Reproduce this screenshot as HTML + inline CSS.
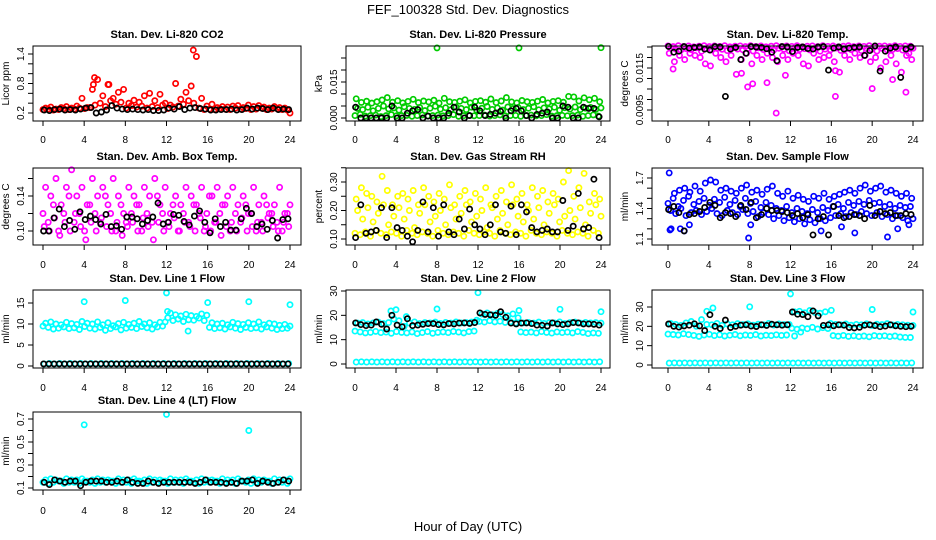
<!DOCTYPE html>
<html><head><meta charset="utf-8"><style>
body{margin:0;background:#fff}
svg{display:block;font-family:"Liberation Sans",sans-serif}
</style></head><body>
<svg id="chart" width="936" height="540" viewBox="0 0 936 540" xmlns="http://www.w3.org/2000/svg">
<rect width="936" height="540" fill="#fff"/>
<text x="468" y="14" text-anchor="middle" font-size="13">FEF_100328  Std. Dev. Diagnostics</text>
<text x="468" y="531" text-anchor="middle" font-size="13">Hour of Day (UTC)</text>
<g id="plots"></g>
</svg>
<script>
// ---- data (48 samples per series across 0-24 h unless hours given) ----
const hourTicks=[0,4,8,12,16,20,24];
const co2Red1=[0.27,0.28,0.26,0.27,0.29,0.27,0.28,0.30,0.29,0.31,0.36,0.40,0.33,0.45,0.38,0.42,0.30,0.35,0.32,0.34,0.30,0.33,0.31,0.36,0.29,0.32,0.34,0.38,0.45,0.40,0.30,0.27,0.28,0.27,0.29,0.28,0.27,0.30,0.28,0.29,0.27,0.28,0.30,0.27,0.28,0.29,0.27,0.26];
const co2Red2=[0.30,0.32,0.28,0.31,0.33,0.30,0.34,0.50,0.31,0.68,0.88,0.55,0.78,0.50,0.62,0.68,0.40,0.46,0.42,0.55,0.60,0.45,0.58,0.40,0.36,0.80,0.48,0.62,0.75,1.35,0.50,0.34,0.38,0.31,0.33,0.32,0.34,0.35,0.31,0.36,0.33,0.35,0.32,0.30,0.33,0.31,0.30,0.20];
const co2OutH=[14.6,5.0,6.4,4.9];
const co2OutV=[1.48,0.92,0.78,0.78];
const co2Black=[0.26,0.25,0.27,0.28,0.26,0.27,0.26,0.28,0.30,0.31,0.20,0.22,0.26,0.35,0.30,0.28,0.27,0.28,0.27,0.26,0.27,0.25,0.25,0.26,0.30,0.28,0.33,0.27,0.30,0.31,0.29,0.28,0.26,0.26,0.27,0.27,0.28,0.26,0.27,0.30,0.28,0.30,0.29,0.27,0.30,0.27,0.28,0.27];

const prG1=[0.001,0.0015,0.0008,0.001,0.0012,0.0006,0.001,0.0014,0.0009,0.001,0.0011,0.0007,0.001,0.0013,0.0008,0.001,0.0012,0.0009,0.001,0.0014,0.0007,0.001,0.0011,0.0009,0.001,0.0012,0.0008,0.001,0.0013,0.0009,0.001,0.0011,0.0007,0.001,0.0012,0.0009,0.001,0.0014,0.0008,0.001,0.0011,0.0009,0.001,0.0012,0.0007,0.001,0.0013,0.0008];
const prG2=[0.004,0.0035,0.0045,0.003,0.004,0.005,0.0038,0.0042,0.0033,0.0047,0.004,0.0036,0.0044,0.0031,0.0041,0.0049,0.0037,0.0043,0.0034,0.0046,0.004,0.0035,0.0045,0.0032,0.0041,0.0048,0.0036,0.0042,0.0033,0.0046,0.0039,0.0044,0.0035,0.0041,0.0047,0.0034,0.0042,0.0038,0.0045,0.0032,0.0043,0.0037,0.0046,0.0035,0.0041,0.0044,0.0036,0.0042];
const prG3=[0.008,0.0065,0.007,0.0062,0.0068,0.0075,0.0085,0.0066,0.0072,0.0063,0.0069,0.0078,0.0064,0.0071,0.0067,0.0074,0.0062,0.0082,0.0068,0.0065,0.007,0.0076,0.0063,0.0069,0.0072,0.0066,0.0079,0.0064,0.0071,0.0085,0.0067,0.0063,0.0073,0.0068,0.0065,0.007,0.0077,0.0063,0.0069,0.0072,0.0066,0.009,0.0088,0.0071,0.0084,0.0076,0.0082,0.0068];
const prOutH=[8,16,24];
const prOutV=[0.0292,0.0292,0.0293];
const prBlack=[0.0045,0,0,0,0,0,0,0.005,0,0,0.002,0.003,0.0035,0,0.0008,0,0,0,0.002,0.0045,0.0025,0,0.001,0.0045,0.003,0.001,0.0015,0.002,0.0028,0,0.003,0.004,0.003,0.001,0,0.0015,0.002,0.0025,0,0,0.005,0.0045,0,0,0.0045,0.004,0.004,0.0005];

const tmM1=[0.01255,0.01252,0.01256,0.01253,0.01255,0.01251,0.01254,0.01256,0.01252,0.01255,0.01253,0.01256,0.01251,0.01254,0.01255,0.01252,0.01256,0.01253,0.01255,0.01251,0.01254,0.01256,0.01252,0.01255,0.01253,0.01256,0.01251,0.01254,0.01255,0.01252,0.01256,0.01253,0.01255,0.01251,0.01254,0.01256,0.01252,0.01255,0.01253,0.01256,0.01251,0.01254,0.01255,0.01252,0.01256,0.01253,0.01255,0.01254];
const tmM2=[0.01245,0.0124,0.01235,0.01243,0.01238,0.01246,0.0123,0.01242,0.01236,0.01244,0.01239,0.01233,0.01245,0.0124,0.01237,0.01243,0.01231,0.01246,0.01238,0.01241,0.01235,0.01244,0.01239,0.01232,0.01245,0.01238,0.01242,0.01236,0.01244,0.0123,0.0124,0.01237,0.01245,0.01234,0.01241,0.01238,0.01246,0.01233,0.01242,0.01239,0.01231,0.01244,0.01236,0.01238,0.01243,0.01235,0.01241,0.01244];
const tmM3=[0.0122,0.0118,0.0121,0.0119,0.0122,0.0121,0.012,0.0117,0.0116,0.0122,0.012,0.0118,0.0121,0.0112,0.0119,0.0122,0.0117,0.0121,0.0119,0.0122,0.012,0.0118,0.0121,0.0119,0.0122,0.0121,0.0117,0.0116,0.0122,0.0119,0.012,0.0121,0.0118,0.0113,0.0121,0.0119,0.0122,0.012,0.0121,0.0118,0.012,0.0115,0.0118,0.0121,0.0117,0.0113,0.0121,0.0119];
const tmOutH=[0.5,7.2,7.8,8.3,9.7,10.6,11.5,16.4,16.4,20,22,23.3,23.6];
const tmOutV=[0.01145,0.01125,0.0106,0.01075,0.0108,0.00935,0.01115,0.01015,0.01137,0.01052,0.01095,0.01035,0.0122];
const tmBlack=[0.01253,0.01225,0.0123,0.01252,0.01245,0.01248,0.0125,0.0124,0.01235,0.01252,0.0125,0.01015,0.0124,0.01248,0.0119,0.0122,0.01252,0.0125,0.01248,0.01242,0.01225,0.01185,0.01252,0.0125,0.01228,0.01248,0.0125,0.01243,0.0124,0.0125,0.01252,0.0114,0.01245,0.0125,0.0124,0.01245,0.01248,0.0125,0.0121,0.01233,0.01255,0.01135,0.0123,0.01245,0.0125,0.01105,0.0124,0.0125];

const amM1=[0.12,0.11,0.13,0.10,0.12,0.14,0.11,0.12,0.10,0.13,0.12,0.11,0.14,0.12,0.10,0.13,0.11,0.12,0.13,0.10,0.12,0.11,0.14,0.12,0.11,0.13,0.10,0.12,0.11,0.13,0.12,0.10,0.14,0.11,0.12,0.13,0.10,0.12,0.11,0.13,0.12,0.10,0.11,0.13,0.12,0.11,0.10,0.12];
const amM2=[0.15,0.14,0.16,0.13,0.15,0.17,0.14,0.15,0.13,0.16,0.14,0.15,0.13,0.16,0.14,0.12,0.15,0.14,0.13,0.15,0.14,0.16,0.13,0.15,0.12,0.14,0.13,0.15,0.14,0.13,0.15,0.12,0.14,0.15,0.13,0.14,0.15,0.13,0.14,0.12,0.15,0.13,0.14,0.12,0.13,0.15,0.12,0.13];
const amM3=[0.105,0.10,0.115,0.095,0.11,0.10,0.12,0.105,0.09,0.11,0.10,0.115,0.105,0.10,0.11,0.095,0.105,0.11,0.10,0.115,0.105,0.09,0.11,0.10,0.105,0.115,0.10,0.11,0.105,0.10,0.115,0.105,0.10,0.11,0.095,0.105,0.11,0.10,0.115,0.10,0.105,0.11,0.10,0.115,0.105,0.10,0.11,0.105];
const amBlack=[0.10,0.10,0.115,0.125,0.105,0.112,0.102,0.122,0.113,0.117,0.113,0.108,0.119,0.105,0.106,0.102,0.116,0.116,0.114,0.108,0.112,0.116,0.132,0.108,0.11,0.119,0.118,0.111,0.107,0.117,0.123,0.11,0.098,0.114,0.105,0.11,0.101,0.101,0.114,0.126,0.12,0.105,0.108,0.102,0.112,0.092,0.113,0.114];

const rhY1=[0.12,0.115,0.125,0.11,0.13,0.12,0.115,0.125,0.12,0.11,0.13,0.12,0.115,0.125,0.12,0.11,0.13,0.12,0.115,0.125,0.12,0.11,0.13,0.12,0.115,0.125,0.12,0.11,0.13,0.12,0.115,0.125,0.12,0.11,0.13,0.12,0.115,0.125,0.12,0.11,0.13,0.12,0.115,0.125,0.12,0.11,0.13,0.12];
const rhY2=[0.2,0.17,0.21,0.16,0.19,0.22,0.15,0.18,0.21,0.17,0.2,0.14,0.19,0.22,0.16,0.18,0.2,0.15,0.21,0.17,0.19,0.22,0.16,0.18,0.2,0.14,0.21,0.17,0.19,0.15,0.22,0.18,0.16,0.2,0.17,0.21,0.15,0.19,0.22,0.16,0.18,0.2,0.17,0.21,0.15,0.19,0.22,0.18];
const rhY3=[0.24,0.28,0.26,0.25,0.23,0.32,0.27,0.22,0.25,0.26,0.24,0.27,0.22,0.28,0.25,0.23,0.26,0.24,0.29,0.22,0.25,0.27,0.23,0.26,0.24,0.28,0.22,0.25,0.27,0.23,0.29,0.24,0.26,0.22,0.28,0.25,0.27,0.23,0.26,0.24,0.3,0.34,0.25,0.28,0.33,0.23,0.26,0.24];
const rhBlack=[0.105,0.22,0.12,0.125,0.13,0.21,0.105,0.21,0.14,0.13,0.11,0.09,0.13,0.23,0.125,0.21,0.11,0.22,0.125,0.115,0.17,0.135,0.205,0.15,0.135,0.115,0.15,0.22,0.125,0.12,0.215,0.115,0.22,0.195,0.14,0.125,0.13,0.135,0.125,0.125,0.235,0.13,0.145,0.26,0.135,0.14,0.31,0.105];

const sfB1=[1.45,1.5,1.42,1.48,1.52,1.44,1.47,1.5,1.43,1.49,1.46,1.51,1.44,1.48,1.42,1.5,1.45,1.47,1.41,1.46,1.43,1.4,1.38,1.42,1.36,1.4,1.37,1.35,1.39,1.36,1.41,1.38,1.42,1.44,1.4,1.46,1.43,1.47,1.44,1.48,1.45,1.46,1.42,1.44,1.4,1.43,1.41,1.42];
const sfB2=[1.38,1.35,1.4,1.33,1.36,1.38,1.34,1.37,1.4,1.35,1.33,1.38,1.36,1.34,1.39,1.35,1.37,1.32,1.36,1.34,1.3,1.33,1.28,1.31,1.27,1.3,1.25,1.29,1.26,1.3,1.28,1.31,1.33,1.35,1.32,1.36,1.34,1.37,1.35,1.33,1.36,1.32,1.34,1.3,1.33,1.31,1.28,1.3];
const sfB3=[1.75,1.55,1.58,1.6,1.56,1.62,1.57,1.65,1.68,1.66,1.58,1.6,1.57,1.55,1.6,1.63,1.56,1.58,1.54,1.59,1.62,1.55,1.52,1.57,1.5,1.53,1.49,1.47,1.52,1.5,1.55,1.49,1.52,1.54,1.56,1.58,1.55,1.6,1.63,1.57,1.6,1.62,1.56,1.58,1.55,1.52,1.55,1.5];
const sfOutH=[0.2,0.3,1.2,1.6,2.1,7.9,8.1,15,17,18.3,21.5,22.5,23.6];
const sfOutV=[1.19,1.2,1.2,1.18,1.24,1.11,1.24,1.18,1.22,1.16,1.12,1.2,1.24];
const sfBlack=[1.39,1.42,1.36,1.18,1.34,1.35,1.37,1.41,1.46,1.43,1.31,1.36,1.35,1.32,1.43,1.39,1.46,1.31,1.34,1.4,1.38,1.38,1.37,1.36,1.33,1.35,1.31,1.34,1.14,1.3,1.32,1.14,1.42,1.33,1.31,1.32,1.34,1.33,1.3,1.43,1.33,1.37,1.35,1.36,1.33,1.33,1.35,1.34];

const l1C1=[9.5,9.2,8.8,9.0,9.3,8.9,9.1,8.7,9.4,9.0,8.8,9.2,8.5,8.9,9.3,8.6,9.0,9.2,8.9,9.4,9.1,8.8,9.3,9.5,11.5,10.8,11.2,10.6,11.0,10.9,11.4,10.8,9.2,8.9,9.1,8.8,9.3,9.0,8.7,9.2,8.9,9.1,8.8,9.3,9.0,8.7,8.9,9.0];
const l1C2=[10.2,10.5,10.0,9.8,10.4,10.1,9.9,10.6,10.2,10.0,10.5,9.8,10.3,9.6,10.1,10.4,9.9,10.2,10.6,10.0,10.3,9.8,10.4,10.5,12.6,12.2,11.9,12.3,12.0,11.8,12.4,12.1,10.3,10.0,10.2,9.8,10.4,10.1,9.9,10.3,10.0,10.5,9.8,10.2,10.0,9.7,9.9,9.5];
const l1C0=[0.5,0.6,0.5,0.6,0.5,0.6,0.5,0.6,0.5,0.6,0.5,0.6,0.5,0.6,0.5,0.6,0.5,0.6,0.5,0.6,0.5,0.6,0.5,0.6,0.5,0.6,0.5,0.6,0.5,0.6,0.5,0.6,0.5,0.6,0.5,0.6,0.5,0.6,0.5,0.6,0.5,0.6,0.5,0.6,0.5,0.6,0.5,0.6];
const l1OutH=[4,8,12,16,20,24,14.1,12.1];
const l1OutV=[15.3,15.6,17.4,15.1,15.3,14.6,8.3,13.0];
const l1Black=[0.5,0.5,0.5,0.5,0.5,0.5,0.5,0.5,0.5,0.5,0.5,0.5,0.5,0.5,0.5,0.5,0.5,0.5,0.5,0.5,0.5,0.5,0.5,0.5,0.5,0.5,0.5,0.5,0.5,0.5,0.5,0.5,0.5,0.5,0.5,0.5,0.5,0.5,0.5,0.5,0.5,0.5,0.5,0.5,0.5,0.5,0.5,0.5];

const l2C1=[13.5,13.2,12.8,13.0,13.4,12.9,13.1,12.6,13.3,13.0,12.8,13.2,12.5,12.9,13.3,12.6,13.0,13.2,12.9,13.4,13.1,12.8,13.3,13.5,17.5,17.2,17.8,17.3,17.6,17.1,17.4,16.8,13.2,12.9,13.1,12.8,13.3,13.0,12.7,13.2,12.9,13.1,12.8,13.3,13.0,12.5,12.8,12.6];
const l2C2=[16.8,17.0,16.5,16.9,17.2,16.6,17.0,18.5,17.8,15.5,16.8,17.3,16.6,17.0,16.9,17.2,16.7,17.1,16.8,17.3,16.9,17.0,17.2,18.0,20.5,21.0,20.2,20.8,20.4,19.8,20.6,19.0,16.9,17.1,16.8,17.2,16.7,17.0,16.9,17.3,16.6,17.0,17.2,16.8,17.1,16.9,17.0,16.8];
const l2C0=[0.8,0.9,0.8,0.9,0.8,0.9,0.8,0.9,0.8,0.9,0.8,0.9,0.8,0.9,0.8,0.9,0.8,0.9,0.8,0.9,0.8,0.9,0.8,0.9,0.8,0.9,0.8,0.9,0.8,0.9,0.8,0.9,0.8,0.9,0.8,0.9,0.8,0.9,0.8,0.9,0.8,0.9,0.8,0.9,0.8,0.9,0.8,0.9];
const l2OutH=[3.5,4,8,12,16,20,24,5];
const l2OutV=[21.8,22.3,22.6,29.3,22.0,22.5,21.5,19.5];
const l2Black=[16.9,16.2,15.8,16.0,17.3,16.3,14.4,20.0,16.0,15.3,18.6,15.8,16.0,16.3,16.6,16.6,16.2,16.1,16.6,16.5,16.8,16.9,16.7,17.0,21.0,20.4,20.2,20.0,21.5,19.2,16.8,16.5,16.8,16.9,16.6,16.0,15.9,15.6,16.9,16.5,16.2,16.5,17.0,16.9,16.5,16.5,16.3,16.0];

const l3C1=[16.0,15.8,15.5,16.2,15.7,15.3,14.8,15.5,15.9,15.2,15.6,15.0,15.4,15.8,15.1,15.5,15.3,15.7,15.0,15.4,15.2,15.6,15.3,15.5,19.0,18.5,19.2,18.8,19.5,18.6,19.3,18.9,15.2,14.9,15.3,14.8,15.1,14.7,15.0,14.6,15.2,14.9,15.1,14.7,15.0,14.5,14.3,14.2];
const l3C2=[21.5,21.0,20.5,21.8,22.5,20.0,23.5,21.0,20.8,21.5,20.5,21.2,20.8,21.4,20.9,21.3,20.6,21.1,20.8,21.5,20.7,21.2,20.9,21.0,27.5,27.8,27.0,28.2,27.2,26.8,27.5,21.5,21.0,20.8,21.2,20.6,21.0,20.8,21.3,20.5,21.1,20.9,21.4,20.7,21.0,20.8,20.6,20.5];
const l3C0=[1,1.1,1,1.1,1,1.1,1,1.1,1,1.1,1,1.1,1,1.1,1,1.1,1,1.1,1,1.1,1,1.1,1,1.1,1,1.1,1,1.1,1,1.1,1,1.1,1,1.1,1,1.1,1,1.1,1,1.1,1,1.1,1,1.1,1,1.1,1,1.1];
const l3OutH=[3.8,4.4,8,12,16,20,24,12.4,13];
const l3OutV=[27.8,29.5,30.1,36.8,28.3,28.7,27.4,15.0,17.0];
const l3Black=[21.2,20.0,19.6,20.2,20.6,21.3,20.2,17.8,26.0,20.0,18.9,23.2,19.4,20.0,20.6,20.8,20.1,19.9,20.8,20.5,21.1,20.8,20.6,20.8,27.4,26.3,26.1,25.0,28.0,25.4,20.5,20.8,20.3,20.8,20.6,19.4,19.2,19.5,20.6,20.8,20.4,19.8,20.1,20.8,20.3,20.0,19.8,20.0];

const l4C1=[0.15,0.14,0.15,0.16,0.14,0.15,0.15,0.14,0.16,0.15,0.14,0.15,0.15,0.16,0.14,0.15,0.15,0.14,0.16,0.15,0.14,0.15,0.15,0.16,0.14,0.15,0.15,0.14,0.16,0.15,0.14,0.15,0.15,0.16,0.14,0.15,0.15,0.14,0.16,0.15,0.14,0.15,0.15,0.16,0.14,0.15,0.15,0.14];
const l4C2=[0.17,0.18,0.17,0.16,0.18,0.17,0.17,0.18,0.16,0.17,0.18,0.17,0.17,0.16,0.18,0.17,0.17,0.18,0.16,0.17,0.18,0.17,0.17,0.16,0.18,0.17,0.17,0.18,0.16,0.17,0.18,0.17,0.17,0.16,0.18,0.17,0.17,0.18,0.16,0.17,0.18,0.17,0.17,0.16,0.18,0.17,0.17,0.18];
const l4OutH=[4,12,20];
const l4OutV=[0.65,0.74,0.6];
const l4Black=[0.15,0.13,0.17,0.16,0.15,0.16,0.16,0.12,0.15,0.16,0.16,0.16,0.15,0.15,0.16,0.15,0.17,0.15,0.14,0.14,0.16,0.15,0.14,0.15,0.15,0.15,0.15,0.15,0.15,0.14,0.15,0.17,0.15,0.15,0.15,0.14,0.15,0.14,0.16,0.16,0.17,0.14,0.16,0.15,0.14,0.15,0.17,0.16];

// ---- panel layout ----  series: [values, hours|null, colour, sampling phase (h)]
const panels=[
 {name:'co2',title:'Stan. Dev. Li-820 CO2',yt:'Licor ppm',x0:33,x1:301,y0:46,y1:121,h0:43,h24:290,v1:0.2,p1:113,v2:1.4,p2:54,ticks:[0.2,0.4,0.6,0.8,1.0,1.2,1.4],labels:['0.2','0.8','1.4'],lv:[0.2,0.8,1.4],xl:139,
  series:[[co2Red1,null,'#ff0000',0],[co2Red2,null,'#ff0000',0.25],[co2OutV,co2OutH,'#ff0000'],[co2Black,null,'#000',0.12]]},
 {name:'pressure',title:'Stan. Dev. Li-820 Pressure',yt:'kPa',x0:346,x1:610,y0:46,y1:121,h0:355,h24:601,v1:0,p1:118,v2:0.015,p2:82,ticks:[0,0.005,0.01,0.015,0.02,0.025],labels:['0.000','0.015'],lv:[0,0.015],xl:139,
  series:[[prG1,null,'#00cc00',0],[prG2,null,'#00cc00',0.25],[prG3,null,'#00cc00',0.12],[prOutV,prOutH,'#00cc00'],[prBlack,null,'#000',0.06]]},
 {name:'temp',title:'Stan. Dev. Li-820 Temp.',yt:'degrees C',x0:652,x1:923,y0:46,y1:121,h0:668,h24:913,v1:0.0095,p1:110,v2:0.0115,p2:68,ticks:[0.0095,0.01,0.0105,0.011,0.0115,0.012,0.0125],labels:['0.0095','0.0115'],lv:[0.0095,0.0115],xl:139,
  series:[[tmM1,null,'#ff00ff',0],[tmM2,null,'#ff00ff',0.25],[tmM3,null,'#ff00ff',0.12],[tmOutV,tmOutH,'#ff00ff'],[tmBlack,null,'#000',0.06]]},
 {name:'amb-temp',title:'Stan. Dev. Amb. Box Temp.',yt:'degrees C',x0:33,x1:301,y0:168,y1:245,h0:43,h24:290,v1:0.10,p1:231,v2:0.14,p2:196,ticks:[0.10,0.12,0.14,0.16],labels:['0.10','0.14'],lv:[0.10,0.14],xl:264,
  series:[[amM1,null,'#ff00ff',0],[amM2,null,'#ff00ff',0.25],[amM3,null,'#ff00ff',0.12],[amBlack,null,'#000',0.06]]},
 {name:'rh',title:'Stan. Dev. Gas Stream RH',yt:'percent',x0:346,x1:610,y0:168,y1:245,h0:355,h24:601,v1:0.10,p1:239,v2:0.30,p2:182,ticks:[0.10,0.15,0.20,0.25,0.30,0.35],labels:['0.10','0.20','0.30'],lv:[0.10,0.20,0.30],xl:264,
  series:[[rhY1,null,'#ffff00',0],[rhY2,null,'#ffff00',0.25],[rhY3,null,'#ffff00',0.12],[rhBlack,null,'#000',0.06]]},
 {name:'sample-flow',title:'Stan. Dev. Sample Flow',yt:'ml/min',x0:652,x1:923,y0:168,y1:245,h0:668,h24:913,v1:1.1,p1:239,v2:1.7,p2:178,ticks:[1.1,1.2,1.3,1.4,1.5,1.6,1.7],labels:['1.1','1.4','1.7'],lv:[1.1,1.4,1.7],xl:264,
  series:[[sfB1,null,'#0000ff',0],[sfB2,null,'#0000ff',0.25],[sfB3,null,'#0000ff',0.12],[sfOutV,sfOutH,'#0000ff'],[sfBlack,null,'#000',0.06]]},
 {name:'line1',title:'Stan. Dev. Line 1 Flow',yt:'ml/min',x0:33,x1:301,y0:290,y1:368,h0:43,h24:290,v1:0,p1:366,v2:15,p2:303,ticks:[0,5,10,15],labels:['0','5','10','15'],lv:[0,5,10,15],xl:387,
  series:[[l1C1,null,'#00ffff',0],[l1C2,null,'#00ffff',0.25],[l1C0,null,'#00ffff',0.12],[l1OutV,l1OutH,'#00ffff'],[l1Black,null,'#000',0.06]]},
 {name:'line2',title:'Stan. Dev. Line 2 Flow',yt:'ml/min',x0:346,x1:610,y0:290,y1:368,h0:355,h24:601,v1:0,p1:364,v2:30,p2:291,ticks:[0,10,20,30],labels:['0','10','20','30'],lv:[0,10,20,30],xl:387,
  series:[[l2C1,null,'#00ffff',0],[l2C2,null,'#00ffff',0.25],[l2C0,null,'#00ffff',0.12],[l2OutV,l2OutH,'#00ffff'],[l2Black,null,'#000',0.06]]},
 {name:'line3',title:'Stan. Dev. Line 3 Flow',yt:'ml/min',x0:652,x1:923,y0:290,y1:368,h0:668,h24:913,v1:0,p1:365,v2:30,p2:307,ticks:[0,10,20,30],labels:['0','10','20','30'],lv:[0,10,20,30],xl:387,
  series:[[l3C1,null,'#00ffff',0],[l3C2,null,'#00ffff',0.25],[l3C0,null,'#00ffff',0.12],[l3OutV,l3OutH,'#00ffff'],[l3Black,null,'#000',0.06]]},
 {name:'line4',title:'Stan. Dev. Line 4 (LT) Flow',yt:'ml/min',x0:33,x1:301,y0:412,y1:490,h0:43,h24:290,v1:0.1,p1:488,v2:0.7,p2:419,ticks:[0.1,0.2,0.3,0.4,0.5,0.6,0.7],labels:['0.1','0.3','0.5','0.7'],lv:[0.1,0.3,0.5,0.7],xl:510,
  series:[[l4C1,null,'#00ffff',0],[l4C2,null,'#00ffff',0.25],[l4OutV,l4OutH,'#00ffff'],[l4Black,null,'#000',0.12]]}
];

const NS='http://www.w3.org/2000/svg';
const root=document.getElementById('plots');
function mk(tag,attrs,parent){const e=document.createElementNS(NS,tag);for(const k in attrs)e.setAttribute(k,attrs[k]);parent.appendChild(e);return e;}

panels.forEach(p=>{
  const g=mk('g',{},root);
  
  
  const xs=h=>p.h0+(p.h24-p.h0)*h/24;
  const ys=v=>p.p1+(p.p2-p.p1)*(v-p.v1)/(p.v2-p.v1);
  const cx=(p.x0+p.x1)/2;
  const t=mk('text',{x:cx,y:p.y0-8,'text-anchor':'middle','font-size':'11','font-weight':'bold'},g);
  t.textContent=p.title;
  
  
  const pts=mk('g',{fill:'none','stroke-width':'1.7'},g);
  
  
  p.series.forEach(s=>{
    const vals=s[0],hrs=s[1],col=s[2],off=s[3]||0;
    vals.forEach((v,i)=>{
      const h=hrs?hrs[i]:off+i*(23.75)/(vals.length-1);
      const c=mk('circle',{cx:xs(h).toFixed(1),cy:ys(v).toFixed(1),r:'2.6',stroke:col},pts);
      
      
    });
  });
  const b=mk('rect',{x:p.x0,y:p.y0,width:p.x1-p.x0,height:p.y1-p.y0,fill:'none',stroke:'#000','stroke-width':'1'},g);
  
  
  const xa=mk('g',{},g);
  
  
  hourTicks.forEach(h=>{
    const x=xs(h);
    mk('line',{x1:x,x2:x,y1:p.y1,y2:p.y1+5,stroke:'#000'},xa);
    const tx=mk('text',{x:x,y:p.xl+4,'text-anchor':'middle','font-size':'10'},xa);
    tx.textContent=h;
  });
  const ya=mk('g',{},g);
  
  
  p.ticks.forEach(v=>{
    const y=ys(v);
    mk('line',{x1:p.x0-5,x2:p.x0,y1:y,y2:y,stroke:'#000'},ya);
  });
  p.lv.forEach((v,i)=>{
    const y=ys(v),x=p.x0-9;
    const ty=mk('text',{x:x,y:y,'text-anchor':'middle','font-size':'10',transform:`rotate(-90 ${x} ${y})`},ya);
    ty.textContent=p.labels[i];
  });
  const yx=p.x0-24,yy=(p.y0+p.y1)/2;
  const yt=mk('text',{x:yx,y:yy,'text-anchor':'middle','font-size':'10',transform:`rotate(-90 ${yx} ${yy})`},g);
  yt.textContent=p.yt;
  
  
});
</script>
</body></html>
